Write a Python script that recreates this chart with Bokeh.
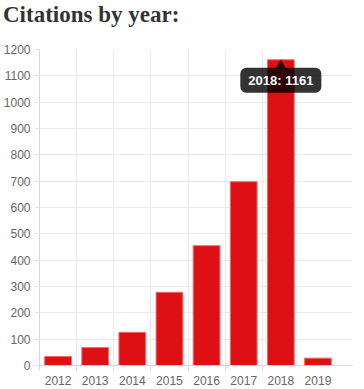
from bokeh.plotting import figure
from bokeh.models import Range1d, FixedTicker, Label, Div
from bokeh.layouts import column
from bokeh.embed import file_html
from bokeh.resources import INLINE

title = "Citations by year:"
years = ["2012", "2013", "2014", "2015", "2016", "2017", "2018", "2019"]
citations = [34, 68, 126, 278, 455, 698, 1161, 28]
y_ticks = list(range(0, 1300, 100))

idx = list(range(len(years)))
peak = citations.index(max(citations))

p = figure(frame_width=313, frame_height=316, output_backend="svg", toolbar_location=None,
           x_range=Range1d(-0.5, len(years) - 0.07), y_range=Range1d(0, 1200),
           min_border_left=36, min_border_right=3, min_border_bottom=0, min_border_top=10)

p.outline_line_color = None
p.background_fill_color = "white"
p.border_fill_color = "white"

p.vbar(x=idx, top=citations, width=0.72, fill_color="#df1014", line_color="#ee6b6b", line_width=1)

# grids
p.ygrid.ticker = FixedTicker(ticks=y_ticks)
p.ygrid.grid_line_color = "#ebebeb"
bounds = [i - 0.5 for i in idx[:-1]]
p.xgrid.ticker = FixedTicker(ticks=bounds)
p.xgrid.grid_line_color = "#ebebeb"

# axes
p.yaxis.ticker = FixedTicker(ticks=y_ticks)
p.yaxis.axis_line_color = "#d8d8d8"
p.yaxis.major_tick_line_color = "#e4e4e4"
p.yaxis.major_tick_out = 5
p.yaxis.major_tick_in = 0
p.yaxis.minor_tick_line_color = None
p.yaxis.major_label_text_font = "Liberation Sans"
p.yaxis.major_label_text_font_size = "12px"
p.yaxis.major_label_text_color = "#666666"
p.yaxis.major_label_standoff = 4

p.xaxis.ticker = FixedTicker(ticks=idx, minor_ticks=bounds)
p.xaxis.major_label_overrides = {i: y for i, y in zip(idx, years)}
p.xaxis.axis_line_color = "#d8d8d8"
p.xaxis.major_tick_line_color = None
p.xaxis.major_tick_out = 0
p.xaxis.major_tick_in = 0
p.xaxis.minor_tick_line_color = "#d8d8d8"
p.xaxis.minor_tick_out = 5
p.xaxis.minor_tick_in = 0
p.xaxis.major_label_text_font = "Liberation Sans"
p.xaxis.major_label_text_font_size = "12px"
p.xaxis.major_label_text_color = "#666666"
p.xaxis.major_label_standoff = 5

# tooltip
p.scatter(x=[idx[peak]], y=[citations[peak] - 23], marker="triangle", size=11,
          fill_color="black", fill_alpha=0.8, line_color=None)
tip = Label(x=idx[peak], y=citations[peak], text=f"{years[peak]}: {citations[peak]}",
            y_offset=-8, text_align="center", text_baseline="top",
            text_font="Liberation Sans", text_font_size="13px", text_font_style="bold",
            text_color="white", background_fill_color="black", background_fill_alpha=0.8,
            border_radius=6, padding=(8, 5))
p.add_layout(tip)

head = Div(text=title, width=348, height=39,
           styles={"font-family": "Liberation Serif", "font-size": "23px",
                   "font-weight": "bold", "color": "#333333", "line-height": "23px",
                   "padding-top": "3px", "padding-left": "3px", "margin": "0"})

layout = column(head, p, spacing=0)
open("out.html", "w").write(file_html(layout, INLINE))
